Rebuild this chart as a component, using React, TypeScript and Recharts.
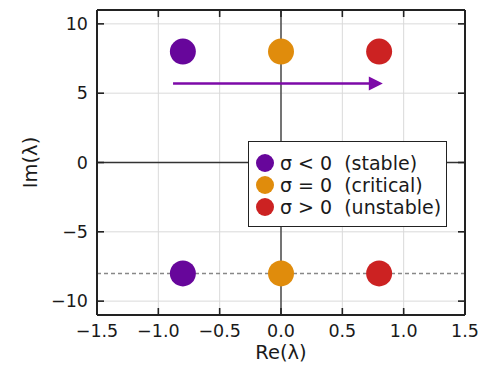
import React from 'react';
import { ScatterChart, Scatter, XAxis, YAxis, CartesianGrid, ReferenceLine, Legend } from 'recharts';

const seriesNames = ['σ < 0  (stable)', 'σ = 0  (critical)', 'σ > 0  (unstable)'];
const seriesColors = ['#67069b', '#e08c0c', '#cc2222'];
const stable = [{ x: -0.8, y: 8 }, { x: -0.8, y: -8 }];
const critical = [{ x: 0, y: 8 }, { x: 0, y: -8 }];
const unstable = [{ x: 0.8, y: 8 }, { x: 0.8, y: -8 }];
const xTicks = [-1.5, -1, -0.5, 0, 0.5, 1, 1.5];
const yTicks = [-10, -5, 0, 5, 10];
const xDomain = [-1.5, 1.5];
const yDomain = [-11, 11];
const arrowStart = { x: -0.88, y: 5.7 };
const arrowEnd = { x: 0.83, y: 5.7 };
const dashedLevel = -8;

const FONT = 'DejaVu Sans, sans-serif';
const TEXT = '#1a1a1a';
const FRAME = '#222';
const TL = 7;

const fmtX = (v: number) => (v < 0 ? '\u2212' + Math.abs(v).toFixed(1) : v.toFixed(1));
const fmtY = (v: number) => (v < 0 ? '\u2212' + Math.abs(v) : String(v));

const BottomTick = (p: any) => (
  <g>
    <line x1={p.x} x2={p.x} y1={p.y} y2={p.y - TL} stroke={FRAME} strokeWidth={1.6} />
    <text x={p.x} y={p.y + 22} textAnchor="middle" fontSize={17.5} fontFamily={FONT} fill={TEXT}>
      {fmtX(p.payload.value)}
    </text>
  </g>
);
const LeftTick = (p: any) => (
  <g>
    <line x1={p.x} x2={p.x + TL} y1={p.y} y2={p.y} stroke={FRAME} strokeWidth={1.6} />
    <text x={p.x - 9} y={p.y + 6} textAnchor="end" fontSize={17.5} fontFamily={FONT} fill={TEXT}>
      {fmtY(p.payload.value)}
    </text>
  </g>
);

// inward tick on the top edge, from a vertical reference line
const TopTickShape = (p: any) => {
  const top = Math.min(p.y1, p.y2);
  return <line x1={p.x1} x2={p.x1} y1={top} y2={top + TL} stroke={FRAME} strokeWidth={1.6} />;
};
// inward tick on the right edge, from a horizontal reference line
const RightTickShape = (p: any) => {
  const right = Math.max(p.x1, p.x2);
  return <line x1={right} x2={right - TL} y1={p.y1} y2={p.y1} stroke={FRAME} strokeWidth={1.6} />;
};

const Dot = (color: string) => (p: any) => <circle cx={p.cx} cy={p.cy} r={13} fill={color} />;

const Arrow = (p: any) => {
  const { x1, y1, x2, y2 } = p;
  const head = 14;
  return (
    <g>
      <line x1={x1} y1={y1} x2={x2 - head + 1} y2={y2} stroke="#7d0aa8" strokeWidth={2.5} />
      <polygon points={`${x2},${y2} ${x2 - head},${y2 - 7} ${x2 - head},${y2 + 7}`} fill="#7d0aa8" />
    </g>
  );
};

const LegendBox = (props: any) => {
  const payload = props.payload || [];
  return (
    <div
      style={{
        position: 'relative',
        width: 199,
        height: 86,
        boxSizing: 'border-box',
        border: '1.6px solid #222',
        background: '#fff',
        fontFamily: FONT,
        fontSize: 19,
        color: TEXT,
      }}
    >
      {payload.map((e: any, i: number) => (
        <div key={i} style={{ position: 'absolute', left: 0, top: 10 + i * 22, height: 22, width: '100%' }}>
          <span
            style={{
              position: 'absolute',
              left: 7,
              top: 2,
              width: 18,
              height: 18,
              borderRadius: 9,
              background: e.color,
            }}
          />
          <span style={{ position: 'absolute', left: 31, top: 0, lineHeight: '22px', whiteSpace: 'pre' }}>{e.value}</span>
        </div>
      ))}
    </div>
  );
};

const XLabel = (p: any) => {
  const vb = p.viewBox;
  return (
    <text x={vb.x + vb.width / 2} y={vb.y + vb.height - 8} textAnchor="middle" fontSize={19.5} fontFamily={FONT} fill={TEXT}>
      Re(λ)
    </text>
  );
};
const YLabel = (p: any) => {
  const vb = p.viewBox;
  const cx = 37;
  const cy = vb.y + vb.height / 2;
  return (
    <text x={cx} y={cy} transform={`rotate(-90 ${cx} ${cy})`} textAnchor="middle" fontSize={19.5} fontFamily={FONT} fill={TEXT}>
      Im(λ)
    </text>
  );
};

export default function App() {
  const series = [stable, critical, unstable];
  return (
    <div style={{ position: 'absolute', left: 0, top: 0, background: '#fff' }}>
      <ScatterChart width={482} height={367} margin={{ top: 10, right: 17, left: 0, bottom: 0 }}>
        <CartesianGrid stroke="#dadada" strokeWidth={1} />
        <ReferenceLine x={0} stroke="#333" strokeWidth={1.3} />
        <ReferenceLine y={0} stroke="#333" strokeWidth={1.3} />
        <ReferenceLine y={dashedLevel} stroke="#888" strokeWidth={1.5} strokeDasharray="4 3" />
        <ReferenceLine segment={[arrowStart, arrowEnd]} shape={<Arrow />} />
        <ReferenceLine y={yDomain[1]} stroke={FRAME} strokeWidth={2} ifOverflow="visible" />
        <ReferenceLine x={xDomain[1]} stroke={FRAME} strokeWidth={2} ifOverflow="visible" />
        {xTicks.map((t) => (
          <ReferenceLine key={'tx' + t} x={t} ifOverflow="visible" shape={<TopTickShape />} />
        ))}
        {yTicks.map((t) => (
          <ReferenceLine key={'ty' + t} y={t} ifOverflow="visible" shape={<RightTickShape />} />
        ))}
        <XAxis
          type="number"
          dataKey="x"
          domain={xDomain}
          ticks={xTicks}
          height={52}
          tickSize={0}
          tickMargin={0}
          tickLine={false}
          axisLine={{ stroke: FRAME, strokeWidth: 2 }}
          tick={<BottomTick />}
          allowDataOverflow
          label={<XLabel />}
        />
        <YAxis
          type="number"
          dataKey="y"
          domain={yDomain}
          ticks={yTicks}
          width={97}
          tickSize={0}
          tickMargin={0}
          tickLine={false}
          axisLine={{ stroke: FRAME, strokeWidth: 2 }}
          tick={<LeftTick />}
          allowDataOverflow
          label={<YLabel />}
        />
        {series.map((d, i) => (
          <Scatter
            key={i}
            name={seriesNames[i]}
            data={d}
            fill={seriesColors[i]}
            shape={Dot(seriesColors[i])}
            isAnimationActive={false}
          />
        ))}
        <Legend
          layout="vertical"
          align="center"
          verticalAlign="middle"
          content={<LegendBox />}
          wrapperStyle={{ left: 248, top: 141, width: 199, height: 86 }}
        />
      </ScatterChart>
    </div>
  );
}
